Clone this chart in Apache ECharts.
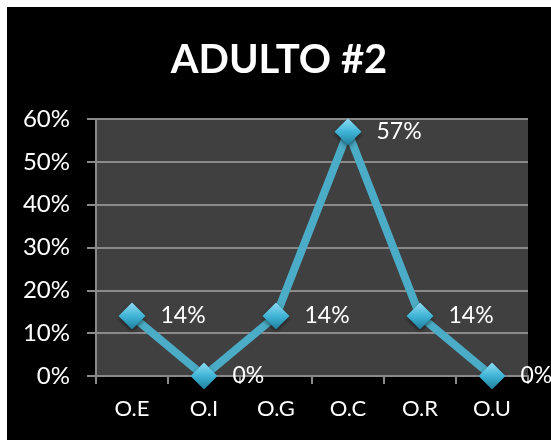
<!DOCTYPE html>
<html>
<head>
<meta charset="utf-8">
<script src="https://cdn.jsdelivr.net/npm/echarts@6/dist/echarts.min.js"></script>
<style>
  html, body { margin: 0; padding: 0; background: #ffffff; width: 551px; height: 440px; overflow: hidden; }
  #chart { position: absolute; left: 7px; top: 7px; width: 544px; height: 433px; }
</style>
</head>
<body>
<div id="chart"></div>
<script>
// Categories and percentages for the chart
const chartTitle = 'ADULTO #2';
const categories = ['O.E', 'O.I', 'O.G', 'O.C', 'O.R', 'O.U'];
const percentValues = [14, 0, 14, 57, 14, 0];
const yTicks = { min: 0, max: 60, interval: 10 };

const FONT = 'Lato, "Open Sans", sans-serif';
const chart = echarts.init(document.getElementById('chart'));

chart.setOption({
  backgroundColor: '#000000',
  animation: false,
  title: {
    text: chartTitle,
    left: 'center',
    top: 28,
    textStyle: { color: '#ffffff', fontFamily: FONT, fontWeight: 'bold', fontSize: 40 }
  },
  grid: { left: 89, right: 23, top: 112, bottom: 64, show: true, backgroundColor: '#404040', borderWidth: 0 },
  xAxis: {
    type: 'category',
    data: categories,
    boundaryGap: true,
    axisLine: { lineStyle: { color: '#8a8a8a', width: 2 } },
    axisTick: { show: true, length: 8, lineStyle: { color: '#8a8a8a', width: 2 } },
    axisLabel: { color: '#ffffff', fontFamily: FONT, fontSize: 22, margin: 22 }
  },
  yAxis: {
    type: 'value',
    min: yTicks.min,
    max: yTicks.max,
    interval: yTicks.interval,
    axisLine: { show: true, lineStyle: { color: '#8a8a8a', width: 2 } },
    axisTick: { show: true, length: 9, lineStyle: { color: '#8a8a8a', width: 2 } },
    axisLabel: { color: '#ffffff', fontFamily: FONT, fontSize: 24, margin: 26, formatter: '{value}%' },
    splitLine: { show: true, lineStyle: { color: '#8a8a8a', width: 2 } }
  },
  series: [{
    type: 'line',
    data: percentValues,
    symbol: 'diamond',
    symbolSize: [27, 27],
    lineStyle: { color: '#4aacc6', width: 8 },
    itemStyle: {
      color: new echarts.graphic.LinearGradient(0, 0, 0, 1, [
        { offset: 0, color: '#8fdcf2' },
        { offset: 0.5, color: '#3fb4d6' },
        { offset: 1, color: '#1f7f9c' }
      ]),
      borderWidth: 0,
      shadowColor: 'rgba(0,0,0,0.5)',
      shadowBlur: 4,
      shadowOffsetY: 2
    },
    label: {
      show: true,
      position: 'right',
      distance: 15,
      color: '#ffffff',
      fontFamily: FONT,
      fontSize: 23,
      formatter: p => p.value + '%'
    }
  }]
});
</script>
</body>
</html>
